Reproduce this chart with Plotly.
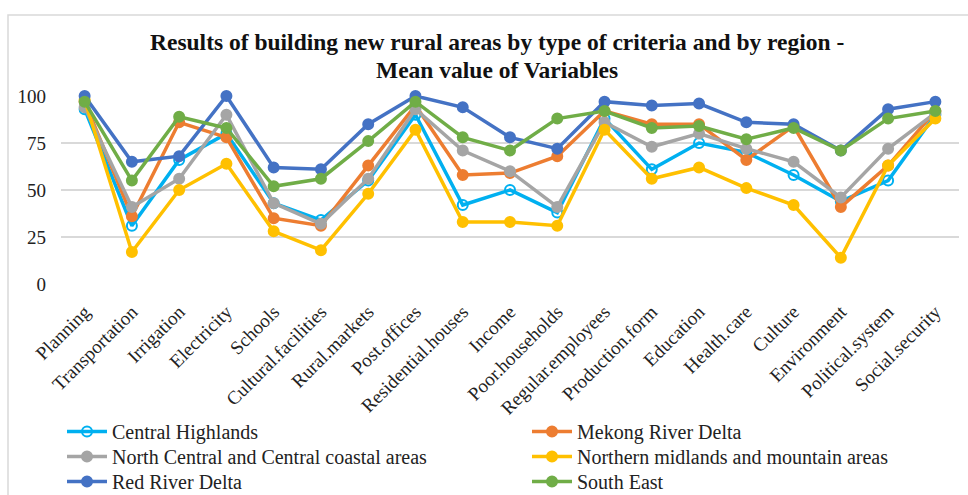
import plotly.graph_objects as go

categories = ["Planning", "Transportation", "Irrigation", "Electricity", "Schools",
              "Cultural.facilities", "Rural.markets", "Post.offices", "Residential.houses",
              "Income", "Poor.households", "Regular.employees", "Production.form",
              "Education", "Health.care", "Culture", "Environment", "Political.system",
              "Social.security"]

central_highlands = [93, 31, 66, 80, 43, 34, 55, 90, 42, 50, 38, 88, 61, 75, 70, 58, 44, 55, 90]
mekong_delta      = [97, 36, 86, 78, 35, 31, 63, 95, 58, 59, 68, 92, 85, 85, 66, 84, 41, 63, 92]
north_central     = [94, 41, 56, 90, 43, 32, 56, 93, 71, 60, 41, 86, 73, 80, 72, 65, 46, 72, 91]
northern_midlands = [98, 17, 50, 64, 28, 18, 48, 82, 33, 33, 31, 82, 56, 62, 51, 42, 14, 63, 88]
red_river_delta   = [100, 65, 68, 100, 62, 61, 85, 100, 94, 78, 72, 97, 95, 96, 86, 85, 71, 93, 97]
south_east        = [97, 55, 89, 83, 52, 56, 76, 97, 78, 71, 88, 92, 83, 84, 77, 83, 71, 88, 92]

title_lines = ["Results of building new rural areas by type of criteria and by region -",
               "Mean value of Variables"]

# name, values, colour, hollow marker
series = [
    ("Central Highlands", central_highlands, "#00B0F0", True),
    ("Mekong River Delta", mekong_delta, "#ED7D31", False),
    ("North Central and Central coastal areas", north_central, "#A5A5A5", False),
    ("Northern midlands and mountain areas", northern_midlands, "#FFC000", False),
    ("Red River Delta", red_river_delta, "#4472C4", False),
    ("South East", south_east, "#70AD47", False),
]

serif = "Liberation Serif, DejaVu Serif, serif"
L, R, T, B = 61, 959, 96, 284
W = R - L
H = B - T

def px(x):
    return (x - L) / W

def py(y):
    return (B - y) / H

fig = go.Figure()
legend_layouts = {}
col_x = [62, 527]
row_top = [412, 437, 462]
for i, (name, vals, color, hollow) in enumerate(series):
    key = "legend" if i == 0 else "legend%d" % (i + 1)
    fig.add_trace(go.Scatter(
        x=categories, y=vals, name=name, mode="lines+markers",
        line=dict(color=color, width=3.5),
        marker=dict(symbol="circle-open" if hollow else "circle", size=10,
                    color=color, line=dict(color=color, width=2)),
        cliponaxis=False, legend=key,
    ))
    legend_layouts[key] = dict(
        orientation="v", xanchor="left", yanchor="top",
        x=px(col_x[i % 2]), y=py(row_top[i // 2]),
        font=dict(family=serif, size=20, color="#222222"),
        bgcolor="rgba(0,0,0,0)", itemwidth=40,
    )

fig.add_shape(type="rect", xref="paper", yref="paper",
              x0=px(8), x1=px(985), y0=py(505), y1=py(15),
              line=dict(color="#D9D9D9", width=1.5), layer="below")

for text, yc in zip(title_lines, [42, 70]):
    fig.add_annotation(text="<b>%s</b>" % text, xref="paper", yref="paper",
                       x=px(497), y=py(yc), xanchor="center", yanchor="middle",
                       showarrow=False,
                       font=dict(family=serif, size=23.5, color="#111111"))

fig.update_layout(
    width=968, height=495,
    margin=dict(l=L, r=968 - R, t=T, b=495 - B, autoexpand=False),
    paper_bgcolor="white", plot_bgcolor="white",
    font=dict(family=serif, size=19, color="#222222"),
    xaxis=dict(
        type="category", tickangle=-45, showgrid=False, showline=False,
        ticks="", tickfont=dict(family=serif, size=19, color="#222222"),
        range=[-0.5, 18.5], automargin=False, ticklabelstandoff=12,
    ),
    yaxis=dict(
        range=[0, 100], tickvals=[0, 25, 50, 75, 100], showgrid=True,
        gridcolor="#D9D9D9", gridwidth=1.5, zeroline=False, showline=False,
        tickfont=dict(family=serif, size=19, color="#222222"),
        ticklabelstandoff=14, automargin=False,
    ),
    showlegend=True,
    **legend_layouts,
)

fig.write_html("out.html", config={"displayModeBar": False},
               post_script="document.body.style.margin='0px';")
